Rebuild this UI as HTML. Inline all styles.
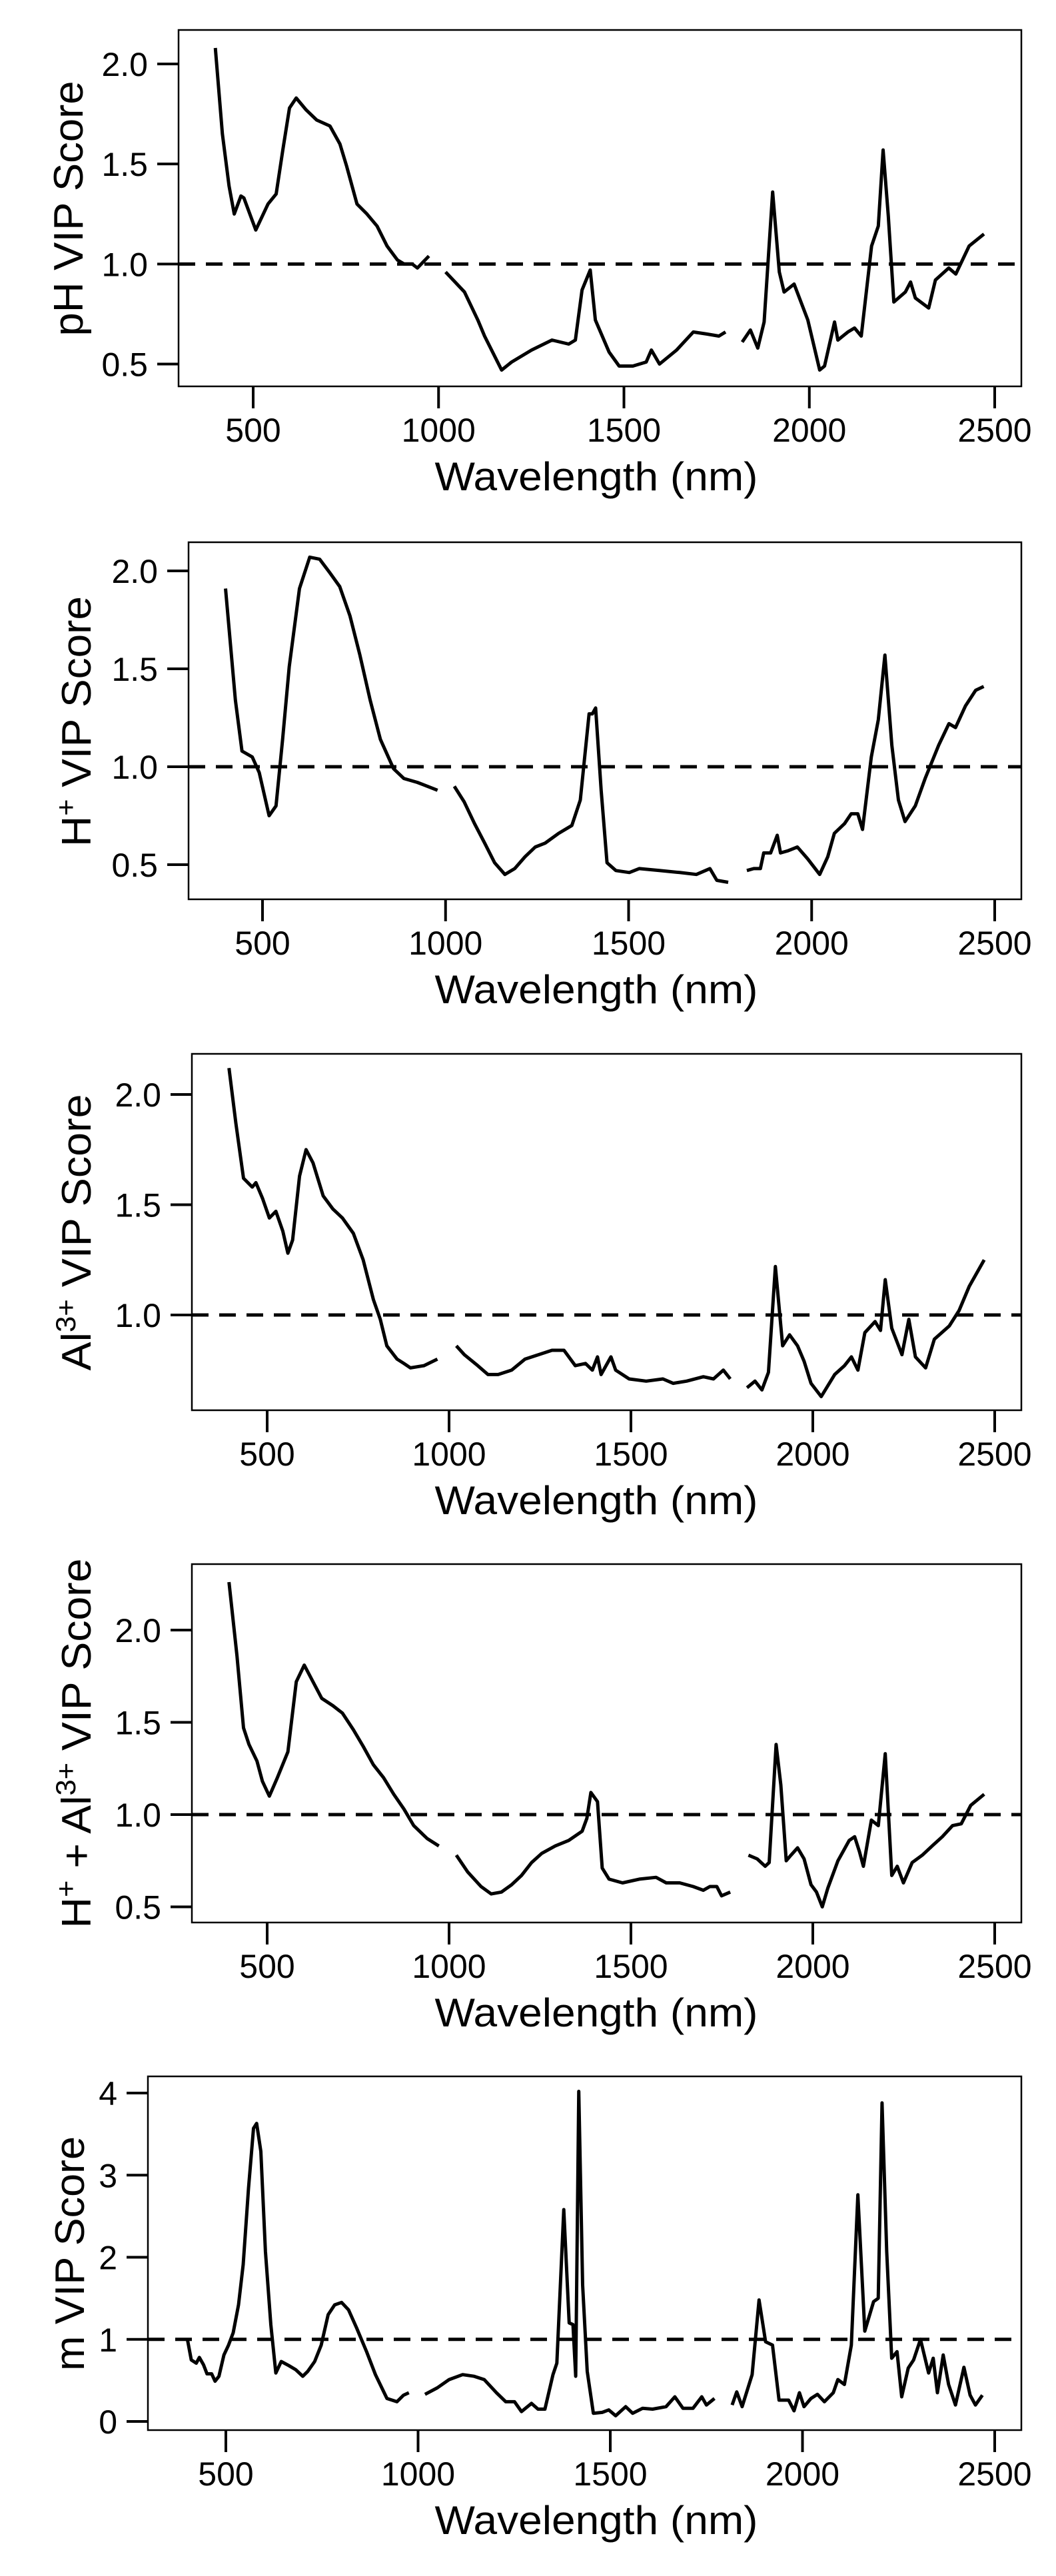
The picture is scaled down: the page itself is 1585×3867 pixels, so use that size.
<!DOCTYPE html>
<html><head><meta charset="utf-8"><style>
html,body{margin:0;padding:0;background:#fff;}
svg{display:block;font-family:"Liberation Sans",sans-serif;}
</style></head><body>
<svg id="fig" width="1585" height="3867" viewBox="0 0 1585 3867" xmlns="http://www.w3.org/2000/svg"></svg>
<script>
const xTicks = [500, 1000, 1500, 2000, 2500];
const xTickLabels = ["500", "1000", "1500", "2000", "2500"];
const threshold = 1.0;

const phWave = [398,417,435,449,467,475,507,540,562,580,598,616,643,671,707,734,752,780,807,834,861,889,907,929,943,974,null,1019,1070,1106,1124,1170,1197,1251,1306,1351,1369,1387,1409,1423,1460,1487,1524,1560,1574,1596,1642,1687,1723,1756,1774,null,1819,1841,1861,1878,1901,1919,1932,1959,1996,2028,2041,2068,2077,2104,2122,2140,2168,2186,2199,2213,2228,2259,2273,2286,2322,2340,2376,2395,2431,2471];
const phVals = [2.08,1.65,1.39,1.25,1.34,1.33,1.17,1.30,1.35,1.57,1.78,1.83,1.77,1.72,1.69,1.60,1.49,1.30,1.25,1.19,1.09,1.02,1.00,1.00,0.98,1.04,null,0.96,0.86,0.72,0.64,0.47,0.51,0.57,0.62,0.60,0.62,0.87,0.97,0.72,0.56,0.49,0.49,0.51,0.57,0.50,0.57,0.66,0.65,0.64,0.66,null,0.61,0.67,0.58,0.71,1.36,0.96,0.86,0.90,0.72,0.47,0.49,0.71,0.62,0.66,0.68,0.64,1.09,1.19,1.57,1.24,0.81,0.86,0.91,0.83,0.78,0.92,0.98,0.95,1.09,1.15];
const phYTicks = [0.5, 1.0, 1.5, 2.0];

const hWave = [399,426,444,472,491,518,537,555,573,601,629,656,684,711,739,766,794,822,858,886,923,978,null,1024,1051,1079,1107,1134,1162,1189,1217,1245,1272,1309,1345,1368,1392,1401,1410,1425,1441,1465,1502,1529,1584,1640,1685,1722,1741,1772,null,1823,1842,1860,1869,1888,1906,1915,1934,1961,1989,2022,2044,2062,2090,2108,2126,2139,2163,2182,2200,2219,2237,2255,2283,2310,2347,2375,2393,2420,2448,2470];
const hVals = [1.91,1.34,1.08,1.05,0.97,0.75,0.80,1.14,1.51,1.91,2.07,2.06,1.99,1.92,1.77,1.57,1.34,1.14,0.99,0.94,0.92,0.88,null,0.90,0.82,0.71,0.61,0.51,0.45,0.48,0.54,0.59,0.61,0.66,0.70,0.83,1.27,1.27,1.30,0.88,0.51,0.47,0.46,0.48,0.47,0.46,0.45,0.48,0.42,0.41,null,0.47,0.48,0.48,0.56,0.56,0.65,0.56,0.57,0.59,0.53,0.45,0.54,0.66,0.71,0.76,0.76,0.68,1.05,1.24,1.57,1.11,0.83,0.72,0.80,0.94,1.11,1.22,1.20,1.31,1.39,1.41];
const hYTicks = [0.5, 1.0, 1.5, 2.0];

const alWave = [395,414,435,459,469,487,506,524,543,557,570,589,607,626,654,681,707,737,764,792,811,829,857,876,894,931,968,null,1020,1042,1079,1107,1135,1172,1209,1246,1283,1316,1347,1375,1394,1408,1418,1445,1458,1495,1542,1588,1616,1653,1699,1727,1754,1773,null,1819,1841,1860,1878,1897,1917,1936,1958,1976,1995,2023,2060,2087,2106,2124,2143,2171,2186,2199,2217,2245,2264,2282,2310,2334,2375,2402,2430,2471];
const alVals = [2.12,1.87,1.62,1.58,1.60,1.53,1.44,1.47,1.38,1.28,1.34,1.63,1.75,1.69,1.54,1.48,1.44,1.37,1.25,1.07,0.98,0.86,0.80,0.78,0.76,0.77,0.80,null,0.86,0.82,0.77,0.73,0.73,0.75,0.80,0.82,0.84,0.84,0.77,0.78,0.75,0.81,0.73,0.81,0.75,0.71,0.70,0.71,0.69,0.70,0.72,0.71,0.75,0.71,null,0.67,0.70,0.66,0.74,1.22,0.86,0.91,0.86,0.79,0.69,0.63,0.73,0.77,0.81,0.75,0.92,0.97,0.93,1.16,0.94,0.82,0.98,0.81,0.76,0.89,0.95,1.02,1.13,1.25];
const alYTicks = [1.0, 1.5, 2.0];

const hAlWave = [395,417,435,450,472,487,506,528,557,580,602,626,650,681,707,737,764,792,820,848,876,903,940,972,null,1020,1051,1088,1116,1144,1172,1199,1227,1255,1292,1329,1366,1379,1390,1408,1421,1440,1477,1523,1569,1597,1634,1671,1699,1717,1736,1749,1773,null,1823,1847,1869,1880,1899,1912,1927,1940,1958,1976,1995,2010,2026,2041,2069,2100,2115,2128,2139,2161,2180,2199,2217,2232,2249,2273,2301,2328,2356,2384,2408,2434,2471];
const hAlVals = [2.26,1.86,1.47,1.38,1.29,1.18,1.10,1.20,1.34,1.72,1.81,1.72,1.63,1.59,1.55,1.46,1.37,1.27,1.20,1.11,1.03,0.94,0.87,0.83,null,0.78,0.69,0.61,0.57,0.58,0.62,0.67,0.74,0.79,0.83,0.86,0.91,0.98,1.12,1.07,0.71,0.65,0.63,0.65,0.66,0.63,0.63,0.61,0.59,0.61,0.61,0.56,0.58,null,0.78,0.76,0.72,0.74,1.38,1.16,0.75,0.78,0.82,0.76,0.62,0.58,0.50,0.60,0.75,0.86,0.88,0.80,0.72,0.97,0.94,1.33,0.67,0.72,0.63,0.74,0.78,0.83,0.88,0.94,0.95,1.05,1.11];
const hAlYTicks = [0.5, 1.0, 1.5, 2.0];

const mWave = [400,410,423,431,442,451,463,472,482,495,507,519,533,545,559,572,580,591,603,617,630,644,664,682,700,713,731,748,766,783,801,819,840,866,889,919,945,962,976,null,1018,1050,1081,1116,1146,1172,1204,1228,1251,1269,1295,1312,1330,1351,1361,1379,1393,1403,1410,1418,1428,1440,1456,1479,1496,1514,1540,1558,1584,1610,1645,1668,1689,1715,1738,1750,1771,null,1817,1829,1843,1869,1887,1904,1922,1939,1964,1978,1992,2004,2022,2039,2057,2080,2092,2109,2127,2144,2162,2185,2197,2207,2219,2232,2246,2258,2275,2289,2307,2328,2340,2351,2366,2380,2398,2420,2436,2450,2468];
const mVals = [1.00,0.75,0.71,0.78,0.69,0.58,0.58,0.49,0.55,0.81,0.93,1.08,1.42,1.91,2.84,3.57,3.63,3.29,2.07,1.18,0.59,0.73,0.68,0.63,0.55,0.61,0.73,0.93,1.30,1.42,1.45,1.36,1.14,0.85,0.57,0.28,0.24,0.32,0.35,null,0.33,0.41,0.51,0.57,0.55,0.51,0.35,0.24,0.24,0.12,0.22,0.15,0.15,0.57,0.71,2.58,1.20,1.18,0.55,4.02,1.66,0.61,0.10,0.11,0.14,0.07,0.18,0.10,0.16,0.15,0.18,0.30,0.16,0.16,0.30,0.20,0.28,null,0.20,0.36,0.18,0.57,1.48,0.97,0.93,0.26,0.26,0.13,0.35,0.18,0.28,0.33,0.24,0.35,0.51,0.45,0.93,2.76,1.10,1.46,1.50,3.88,2.07,0.77,0.85,0.30,0.65,0.75,1.00,0.59,0.77,0.35,0.81,0.45,0.20,0.66,0.32,0.20,0.32];
const mYTicks = [0, 1, 2, 3, 4];

const NS = "http://www.w3.org/2000/svg";
const svg = document.getElementById("fig");
function mk(tag, attrs, parent) {
  const e = document.createElementNS(NS, tag);
  for (const k in attrs) e.setAttribute(k, attrs[k]);
  (parent || svg).appendChild(e);
  return e;
}

const panels = [
  {key:"ph", wave:phWave, vals:phVals, yTicks:phYTicks, dec:1, box:[268,45,1533,580], xp:[380,1493], yv:[2.0,0.5], yp:[96,546.5], titleX:124, titleY:313, titleLen:383,
   title:[["pH VIP Score",""]]},
  {key:"h", wave:hWave, vals:hVals, yTicks:hYTicks, dec:1, box:[283,814,1533,1350], xp:[394,1493], yv:[2.0,1.0], yp:[857,1151], titleX:136, titleY:1083, titleLen:376,
   title:[["H",""],["+","sup"],[" VIP Score",""]]},
  {key:"al", wave:alWave, vals:alVals, yTicks:alYTicks, dec:1, box:[288,1582,1533,2117], xp:[401,1493], yv:[2.0,1.0], yp:[1643,1974], titleX:136, titleY:1850, titleLen:415,
   title:[["Al",""],["3+","sup"],[" VIP Score",""]]},
  {key:"h-al", wave:hAlWave, vals:hAlVals, yTicks:hAlYTicks, dec:1, box:[288,2348,1533,2886], xp:[401,1493], yv:[2.0,1.0], yp:[2447,2724], titleX:136, titleY:2617, titleLen:555,
   title:[["H",""],["+","sup"],[" + Al",""],["3+","sup"],[" VIP Score",""]]},
  {key:"m", wave:mWave, vals:mVals, yTicks:mYTicks, dec:0, box:[222,3117,1533,3648], xp:[339,1493], yv:[4,0], yp:[3142,3635], titleX:126, titleY:3383, titleLen:352,
   title:[["m VIP Score",""]]}
];

panels.forEach(p => {
  const g = mk("g", {});
  
  
  const [L,T,R,B] = p.box;
  const xs = v => p.xp[0] + (v - 500) / 2000 * (p.xp[1] - p.xp[0]);
  const ys = v => p.yp[0] + (v - p.yv[0]) / (p.yv[1] - p.yv[0]) * (p.yp[1] - p.yp[0]);

  const box = mk("rect", {x:L, y:T, width:R-L, height:B-T, fill:"none", stroke:"#000", "stroke-width":2.5}, g);
  
  

  xTicks.forEach((t, i) => {
    const x = xs(t);
    const tk = mk("line", {x1:x, y1:B, x2:x, y2:B+33, stroke:"#000", "stroke-width":4}, g);
    
    
    const lb = mk("text", {x:x, y:B+83, "font-size":50, "text-anchor":"middle"}, g);
    lb.textContent = xTickLabels[i];
    
    
  });
  p.yTicks.forEach(t => {
    const y = ys(t);
    const tk = mk("line", {x1:L-32, y1:y, x2:L, y2:y, stroke:"#000", "stroke-width":4}, g);
    
    
    const lb = mk("text", {x:L-46, y:y+18, "font-size":50, "text-anchor":"end"}, g);
    lb.textContent = t.toFixed(p.dec);
    
    
  });

  const th = mk("line", {x1:L, y1:ys(threshold), x2:R, y2:ys(threshold), stroke:"#000", "stroke-width":5, "stroke-dasharray":"25 16"}, g);
  
  

  let d = "", pen = false;
  p.wave.forEach((w, i) => {
    const v = p.vals[i];
    if (w === null || v === null) { pen = false; return; }
    d += (pen ? "L" : "M") + xs(w).toFixed(1) + "," + ys(v).toFixed(1);
    pen = true;
  });
  const ln = mk("path", {d:d, fill:"none", stroke:"#000", "stroke-width":5, "stroke-linejoin":"round"}, g);
  
  

  const xt = mk("text", {x:895, y:B+156, "font-size":60, "text-anchor":"middle", textLength:485, lengthAdjust:"spacingAndGlyphs"}, g);
  xt.textContent = "Wavelength (nm)";
  
  

  const yt = mk("text", {x:0, y:0, "font-size":62, "text-anchor":"middle", transform:"translate(" + p.titleX + "," + p.titleY + ") rotate(-90)", textLength:p.titleLen, lengthAdjust:"spacingAndGlyphs"}, g);
  p.title.forEach(([s, kind]) => {
    const ts = document.createElementNS(NS, "tspan");
    ts.textContent = s;
    if (kind === "sup") { ts.setAttribute("baseline-shift", "super"); ts.setAttribute("font-size", "42"); }
    yt.appendChild(ts);
  });
  
  
});
</script>
</body></html>
